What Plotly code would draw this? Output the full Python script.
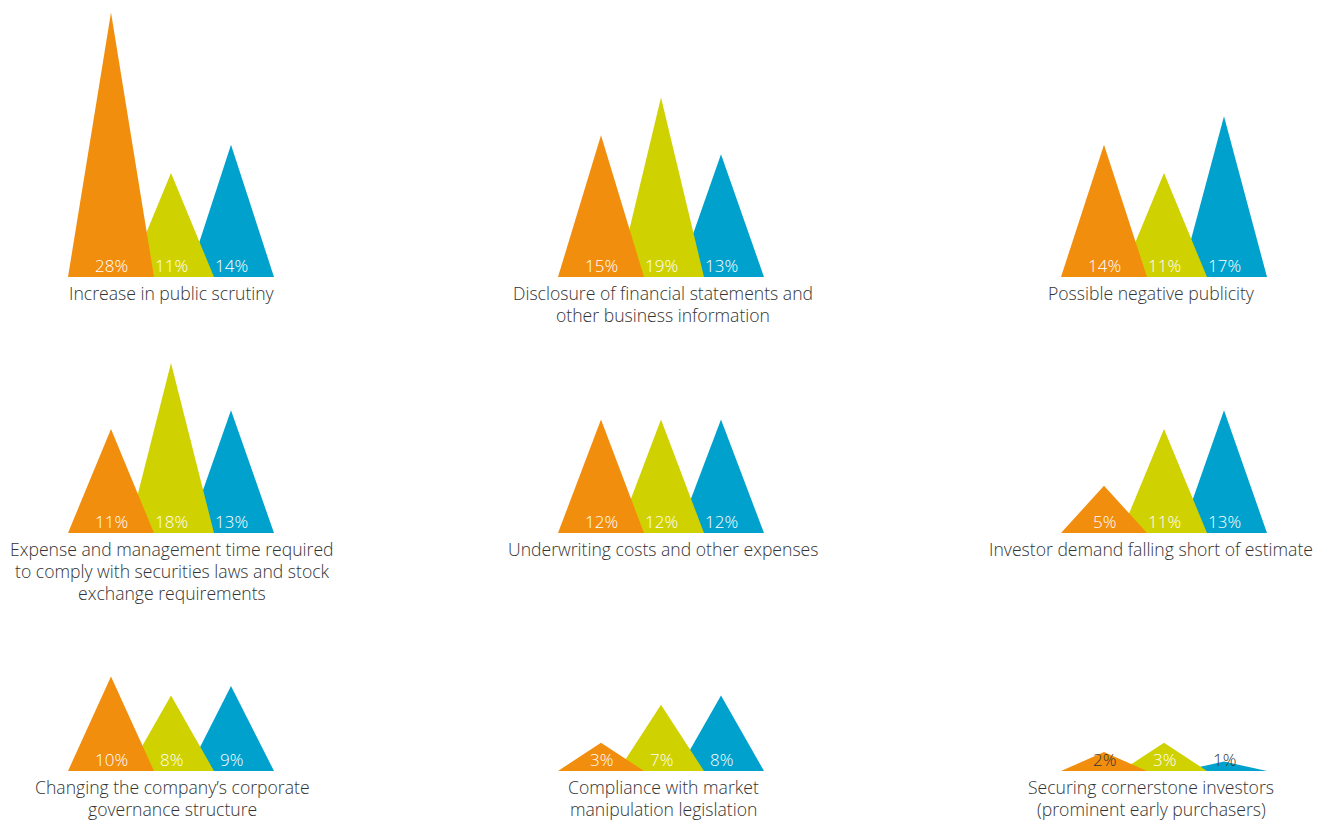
import plotly.graph_objects as go

# Survey results: share of respondents naming each concern, per group
categories = [
    "Increase in public scrutiny",
    "Disclosure of financial statements and<br>other business information",
    "Possible negative publicity",
    "Expense and management time required<br>to comply with securities laws and stock<br>exchange requirements",
    "Underwriting costs and other expenses",
    "Investor demand falling short of estimate",
    "Changing the company’s corporate<br>governance structure",
    "Compliance with market<br>manipulation legislation",
    "Securing cornerstone investors<br>(prominent early purchasers)",
]
orange_values = [28, 15, 14, 11, 12, 5, 10, 3, 2]
yellow_values = [11, 19, 11, 18, 12, 11, 8, 7, 3]
blue_values = [14, 13, 17, 13, 12, 13, 9, 8, 1]

# Layout constants (pixels in a 1330 x 821 canvas)
W, H = 1330, 821
COL_CENTERS = [171, 661, 1164]        # centre of the middle peak per column
LABEL_CENTERS = [172, 663, 1151]      # centre of the caption per column
ROW_BASELINES = [277, 533, 771]       # baseline of each row, from top
ROW_YMAX = [28.5, 20, 12]             # y-range per row (same scale)
PX_PER_PCT = 9.45
PX_PER_UNIT = 60
HALF_BASE = 43 / PX_PER_UNIT          # half base width of a peak, in x units
X_RANGE = (-1.5, 3.5)
CAPTION_FIRST_LINE = 16               # px below baseline to first caption line centre
CAPTION_LINE_GAP = 22                 # px between caption lines

COLORS = {"orange": "#F18E0E", "yellow": "#D0D100", "blue": "#00A2CD"}
TEXT_DARK = "#333333"
FONT = "Open Sans"
VALUE_SIZE = 17
CAPTION_SIZE = 17.6

fig = go.Figure()
layout = {}
annotations = []

for k, cat in enumerate(categories):
    r, c = divmod(k, 3)
    n = k + 1
    xa = "x" if n == 1 else f"x{n}"
    ya = "y" if n == 1 else f"y{n}"
    xname = "xaxis" if n == 1 else f"xaxis{n}"
    yname = "yaxis" if n == 1 else f"yaxis{n}"

    span_px = (X_RANGE[1] - X_RANGE[0]) * PX_PER_UNIT
    x0 = (COL_CENTERS[c] - span_px / 2) / W
    x1 = (COL_CENTERS[c] + span_px / 2) / W
    y0 = (H - ROW_BASELINES[r]) / H
    y1 = y0 + ROW_YMAX[r] * PX_PER_PCT / H

    layout[xname] = dict(domain=[x0, x1], range=list(X_RANGE), anchor=ya,
                         visible=False, fixedrange=True)
    layout[yname] = dict(domain=[y0, y1], range=[0, ROW_YMAX[r]], anchor=xa,
                         visible=False, fixedrange=True)

    # blue drawn first, orange last (on top)
    series = [
        (2, blue_values[k], COLORS["blue"]),
        (1, yellow_values[k], COLORS["yellow"]),
        (0, orange_values[k], COLORS["orange"]),
    ]
    for pos, v, col in series:
        fig.add_trace(go.Scatter(
            x=[pos - HALF_BASE, pos, pos + HALF_BASE, pos - HALF_BASE],
            y=[0, v, 0, 0],
            mode="lines", fill="toself", fillcolor=col,
            line=dict(width=0, color=col),
            xaxis=xa, yaxis=ya, hoverinfo="skip", showlegend=False,
        ))

    for pos, v, col in sorted(series):
        annotations.append(dict(
            x=pos, y=0, xref=xa, yref=ya, text=f"{v}%", showarrow=False,
            yanchor="middle", yshift=12,
            font=dict(family=FONT, size=VALUE_SIZE, weight=300,
                      color=TEXT_DARK if v <= 2 else "white"),
        ))

    # caption, one annotation per line for tighter leading
    for li, line in enumerate(cat.split("<br>")):
        annotations.append(dict(
            x=1, y=0, xref=xa, yref=ya, text=line, showarrow=False,
            xanchor="center", yanchor="middle",
            yshift=-(CAPTION_FIRST_LINE + li * CAPTION_LINE_GAP),
            xshift=LABEL_CENTERS[c] - COL_CENTERS[c],
            font=dict(family=FONT, size=CAPTION_SIZE, weight=300,
                      color=TEXT_DARK),
        ))

fig.update_layout(
    width=W, height=H,
    margin=dict(l=0, r=0, t=0, b=0),
    paper_bgcolor="white", plot_bgcolor="rgba(0,0,0,0)",
    showlegend=False,
    annotations=annotations,
    **layout,
)

fig.write_html("out.html")
